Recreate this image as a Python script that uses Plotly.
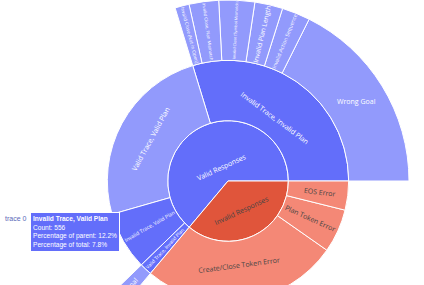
import plotly.graph_objects as go

ids = ["VR", "IR",
       "VR/ITIP", "VR/VTVP", "VR/ITVP", "VR/VTIP",
       "VR/ITIP/WG", "VR/ITIP/S2", "VR/ITIP/S3", "VR/ITIP/S4", "VR/ITIP/S5", "VR/ITIP/S6",
       "VR/VTIP/WG",
       "IR/CC", "IR/PT", "IR/EOS"]
labels = ["Valid Responses", "Invalid Responses",
          "Invalid Trace, Invalid Plan", "Valid Trace, Valid Plan", "Invalid Trace, Valid Plan", "Valid Trace, Invalid Plan",
          "Wrong Goal", "Invalid Action Sequence", "Invalid Plan Length", "Invalid Close (Symbol Mismatch)",
          "Invalid Close, Plan Mismatch", "Invalid Close (Not in Open)",
          "Wrong Goal",
          "Create/Close Token Error", "Plan Token Error", "EOS Error"]
parents = ["", "",
           "VR", "VR", "VR", "VR",
           "VR/ITIP", "VR/ITIP", "VR/ITIP", "VR/ITIP", "VR/ITIP", "VR/ITIP",
           "VR/VTIP",
           "IR", "IR", "IR"]
values = [4555, 2575,
          2119, 1763, 556, 117,
          1255, 180, 178, 228, 188, 90,
          117,
          1882, 416, 277]

BLUE = "#636efa"
BLUE_LEAF = "#929afc"
RED = "#e0553b"
RED_LEAF = "#f48876"
hovered = "VR/ITVP"

child_ids = set(parents)
colors, tcolors = [], []
for i in ids:
    red = i.startswith("IR")
    leaf = i not in child_ids and i != hovered
    if red:
        colors.append(RED_LEAF if leaf else RED)
        tcolors.append("#444")
    else:
        colors.append(BLUE_LEAF if leaf else BLUE)
        tcolors.append("white")

fig = go.Figure(go.Sunburst(
    ids=ids, labels=labels, parents=parents, values=values,
    branchvalues="total", sort=False,
    marker=dict(colors=colors, line=dict(color="white", width=1)),
    leaf=dict(opacity=1),
    textfont=dict(family="Open Sans", size=7, color=tcolors),
    domain=dict(x=[32/424, 1], y=[0, 1]),
))

# static rendition of the hover label shown in the reference
k = ids.index(hovered)
par = ids.index(parents[k])
total = sum(v for v, p in zip(values, parents) if p == "")
hover_text = (f"<b>{labels[k]}</b><br>Count: {values[k]}<br>"
              f"Percentage of parent: {values[k]/values[par]*100:.1f}%<br>"
              f"Percentage of total: {values[k]/total*100:.1f}%")
W, H = 424, 362
fig.add_annotation(x=30/W, y=1-212/H, xref="paper", yref="paper", xanchor="left", yanchor="top",
                   text=hover_text, showarrow=False, align="left",
                   font=dict(family="Arial", size=6.6, color="white"),
                   bgcolor=BLUE, bordercolor="white", borderwidth=1, borderpad=2)
fig.add_annotation(x=29/W, y=1-218/H, xref="paper", yref="paper", xanchor="right", yanchor="middle",
                   text="trace 0", showarrow=False,
                   font=dict(family="Arial", size=7, color="#5a68b8"))

fig.update_layout(width=W, height=H, margin=dict(l=0, r=0, t=0, b=0),
                  paper_bgcolor="white", showlegend=False)
fig.write_html("out.html")
